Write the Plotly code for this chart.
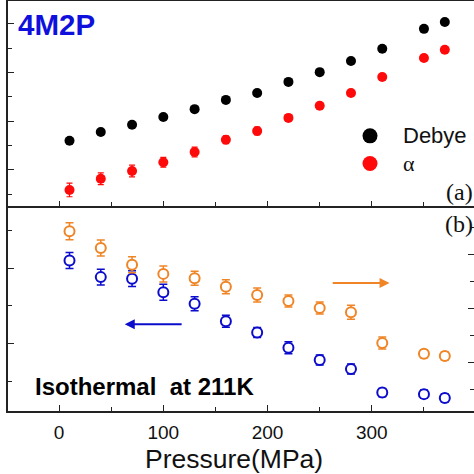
import plotly.graph_objects as go

# ---- data (arbitrary axis units) ----
pressure = [10, 40, 70, 100, 130, 160, 190, 220, 250, 280, 310, 350, 370]

debye = [1.60, 1.78, 1.93, 2.09, 2.25, 2.44, 2.58, 2.81, 3.01, 3.24, 3.49, 3.90, 4.04]
alpha = [0.59, 0.82, 0.98, 1.16, 1.37, 1.62, 1.80, 2.07, 2.32, 2.58, 2.91, 3.30, 3.47]
alpha_err = [0.14, 0.12, 0.12, 0.10, 0.10, 0.08, 0.08, 0.06, 0.06, 0.06, 0.06, 0.06, 0.06]

blue_vals = [2.10, 1.88, 1.86, 1.68, 1.53, 1.30, 1.15, 0.95, 0.79, 0.67, 0.36, 0.34, 0.29]
blue_err = [0.105, 0.105, 0.105, 0.105, 0.092, 0.079, 0.066, 0.079, 0.066, 0.066, 0.053, 0.053, 0.053]

orange_vals = [3.44, 3.13, 2.82, 2.65, 2.57, 2.41, 2.26, 2.15, 2.02, 1.94, 1.37, 1.17, 1.13]
orange_err = [0.157, 0.148, 0.148, 0.148, 0.13, 0.13, 0.13, 0.111, 0.111, 0.13, 0.111, 0.074, 0.074]

legend_names = ["Debye", "α"]

BLACK = "#000000"
RED = "#ff0a0a"
BLUE = "#0c0ccc"
ORANGE = "#ef8526"
FONT = "Liberation Sans, Arial, sans-serif"
SERIF = "Liberation Serif, Times New Roman, serif"

fig = go.Figure()

# top panel
fig.add_trace(go.Scatter(x=pressure, y=debye, mode="markers", xaxis="x", yaxis="y",
                         marker=dict(color=BLACK, size=10), showlegend=False))
fig.add_trace(go.Scatter(x=pressure, y=alpha, mode="markers", xaxis="x", yaxis="y",
                         marker=dict(color=RED, size=10),
                         error_y=dict(type="data", array=alpha_err, color=RED, thickness=1.2, width=3),
                         showlegend=False))
# legend entries
fig.add_trace(go.Scatter(x=[None], y=[None], mode="markers", xaxis="x", yaxis="y",
                         marker=dict(color=BLACK, size=15),
                         name="<span style='font-size:22px'>" + legend_names[0] + "</span>"))
fig.add_trace(go.Scatter(x=[None], y=[None], mode="markers", xaxis="x", yaxis="y",
                         marker=dict(color=RED, size=15),
                         name="<span style='font-family:" + SERIF + ";font-size:22px'>"
                              + legend_names[1] + "</span>"))

# bottom panel
fig.add_trace(go.Scatter(x=pressure, y=blue_vals, mode="markers", xaxis="x2", yaxis="y2",
                         marker=dict(color="white", size=10, line=dict(color=BLUE, width=2)),
                         error_y=dict(type="data", array=blue_err, color=BLUE, thickness=1.5, width=4),
                         showlegend=False))
fig.add_trace(go.Scatter(x=pressure, y=orange_vals, mode="markers", xaxis="x2", yaxis="y3",
                         marker=dict(color="white", size=10, line=dict(color=ORANGE, width=2)),
                         error_y=dict(type="data", array=orange_err, color=ORANGE, thickness=1.5, width=4),
                         showlegend=False))

xr = [-49, 398]
axis_common = dict(showgrid=False, zeroline=False, linecolor="#222", linewidth=1.5,
                   tickcolor="#222", tickwidth=1.2)

fig.update_layout(
    width=474, height=474,
    margin=dict(l=8, r=0, t=1, b=63),
    plot_bgcolor="white", paper_bgcolor="white",
    font=dict(family=FONT, color="black"),
    xaxis=dict(domain=[0, 1], anchor="y", range=xr, showline=True, mirror=True,
               ticks="inside", ticklen=5, dtick=100, tick0=0, showticklabels=False,
               minor=dict(ticks="inside", ticklen=4, dtick=50, tick0=0, tickcolor="#222"),
               **axis_common),
    yaxis=dict(domain=[0.5, 1], anchor="x", range=[0.26, 4.472], showline=True,
               ticks="inside", ticklen=6, dtick=1, tick0=0, showticklabels=False,
               minor=dict(ticks="inside", ticklen=4, dtick=0.5, tick0=0, tickcolor="#222"),
               **axis_common),
    xaxis2=dict(domain=[0, 1], anchor="y2", range=xr, showline=True,
                ticks="inside", ticklen=6, dtick=100, tick0=0,
                tickfont=dict(size=19, family=FONT, color="#111"), ticklabelstandoff=3,
                minor=dict(ticks="inside", ticklen=4, dtick=50, tick0=0, tickcolor="#222"),
                **axis_common),
    yaxis2=dict(domain=[0, 0.5], anchor="x2", range=[0.118, 2.816], showline=True,
                ticks="inside", ticklen=6, dtick=1, tick0=0, showticklabels=False,
                minor=dict(ticks="inside", ticklen=4, dtick=0.5, tick0=0, tickcolor="#222"),
                **axis_common),
    yaxis3=dict(overlaying="y2", anchor="x2", side="right", range=[0.111, 3.907], showline=False,
                ticks="inside", ticklen=6, dtick=1, tick0=0, showticklabels=False,
                minor=dict(ticks="inside", ticklen=4, dtick=0.5, tick0=0, tickcolor="#222"),
                showgrid=False, zeroline=False, tickcolor="#222", tickwidth=1.2),
    legend=dict(x=(337 - 8) / 466, y=(411 - 117) / 410, xanchor="left", yanchor="top",
                bgcolor="rgba(0,0,0,0)", font=dict(size=19, family=FONT, color="#111"),
                itemwidth=56, tracegroupgap=0),
    showlegend=True,
)

# texts and arrows
fig.add_annotation(text="Pressure(MPa)", x=(233.5 - 8) / 466, y=(411 - 459) / 410, xref="paper",
                   yref="paper", xanchor="center", yanchor="middle", showarrow=False,
                   font=dict(size=26.5, color="#111", family=FONT))
fig.add_annotation(text="<b>4M2P</b>", x=-41, y=3.98, xref="x", yref="y", xanchor="left",
                   yanchor="middle", showarrow=False, font=dict(size=29.5, color="#1010dd", family=FONT))
fig.add_annotation(text="(a)", x=1, y=(411 - 192) / 410, xref="paper", yref="paper", xanchor="right",
                   yanchor="middle", showarrow=False, xshift=1,
                   font=dict(size=24, color="#111", family=SERIF))
fig.add_annotation(text="(b)", x=1, y=(411 - 224) / 410, xref="paper", yref="paper", xanchor="right",
                   yanchor="middle", showarrow=False, xshift=1,
                   font=dict(size=24, color="#111", family=SERIF))
fig.add_annotation(text="<b>Isothermal\u00a0 at 211K</b>", x=-25, y=0.44, xref="x2", yref="y2",
                   xanchor="left", yanchor="middle", showarrow=False,
                   font=dict(size=24, color="black", family=FONT))
fig.add_annotation(x=63, y=1.26, ax=119, ay=1.26, xref="x2", yref="y2", axref="x2", ayref="y2",
                   text="", showarrow=True, arrowhead=2, arrowsize=1, arrowwidth=2, arrowcolor=BLUE)
fig.add_annotation(x=317, y=2.48, ax=261, ay=2.48, xref="x2", yref="y3", axref="x2", ayref="y3",
                   text="", showarrow=True, arrowhead=2, arrowsize=1, arrowwidth=2, arrowcolor=ORANGE)

fig.write_html("out.html", config={"displayModeBar": False},
               post_script="document.body.style.margin='0';document.body.style.overflow='hidden';")
